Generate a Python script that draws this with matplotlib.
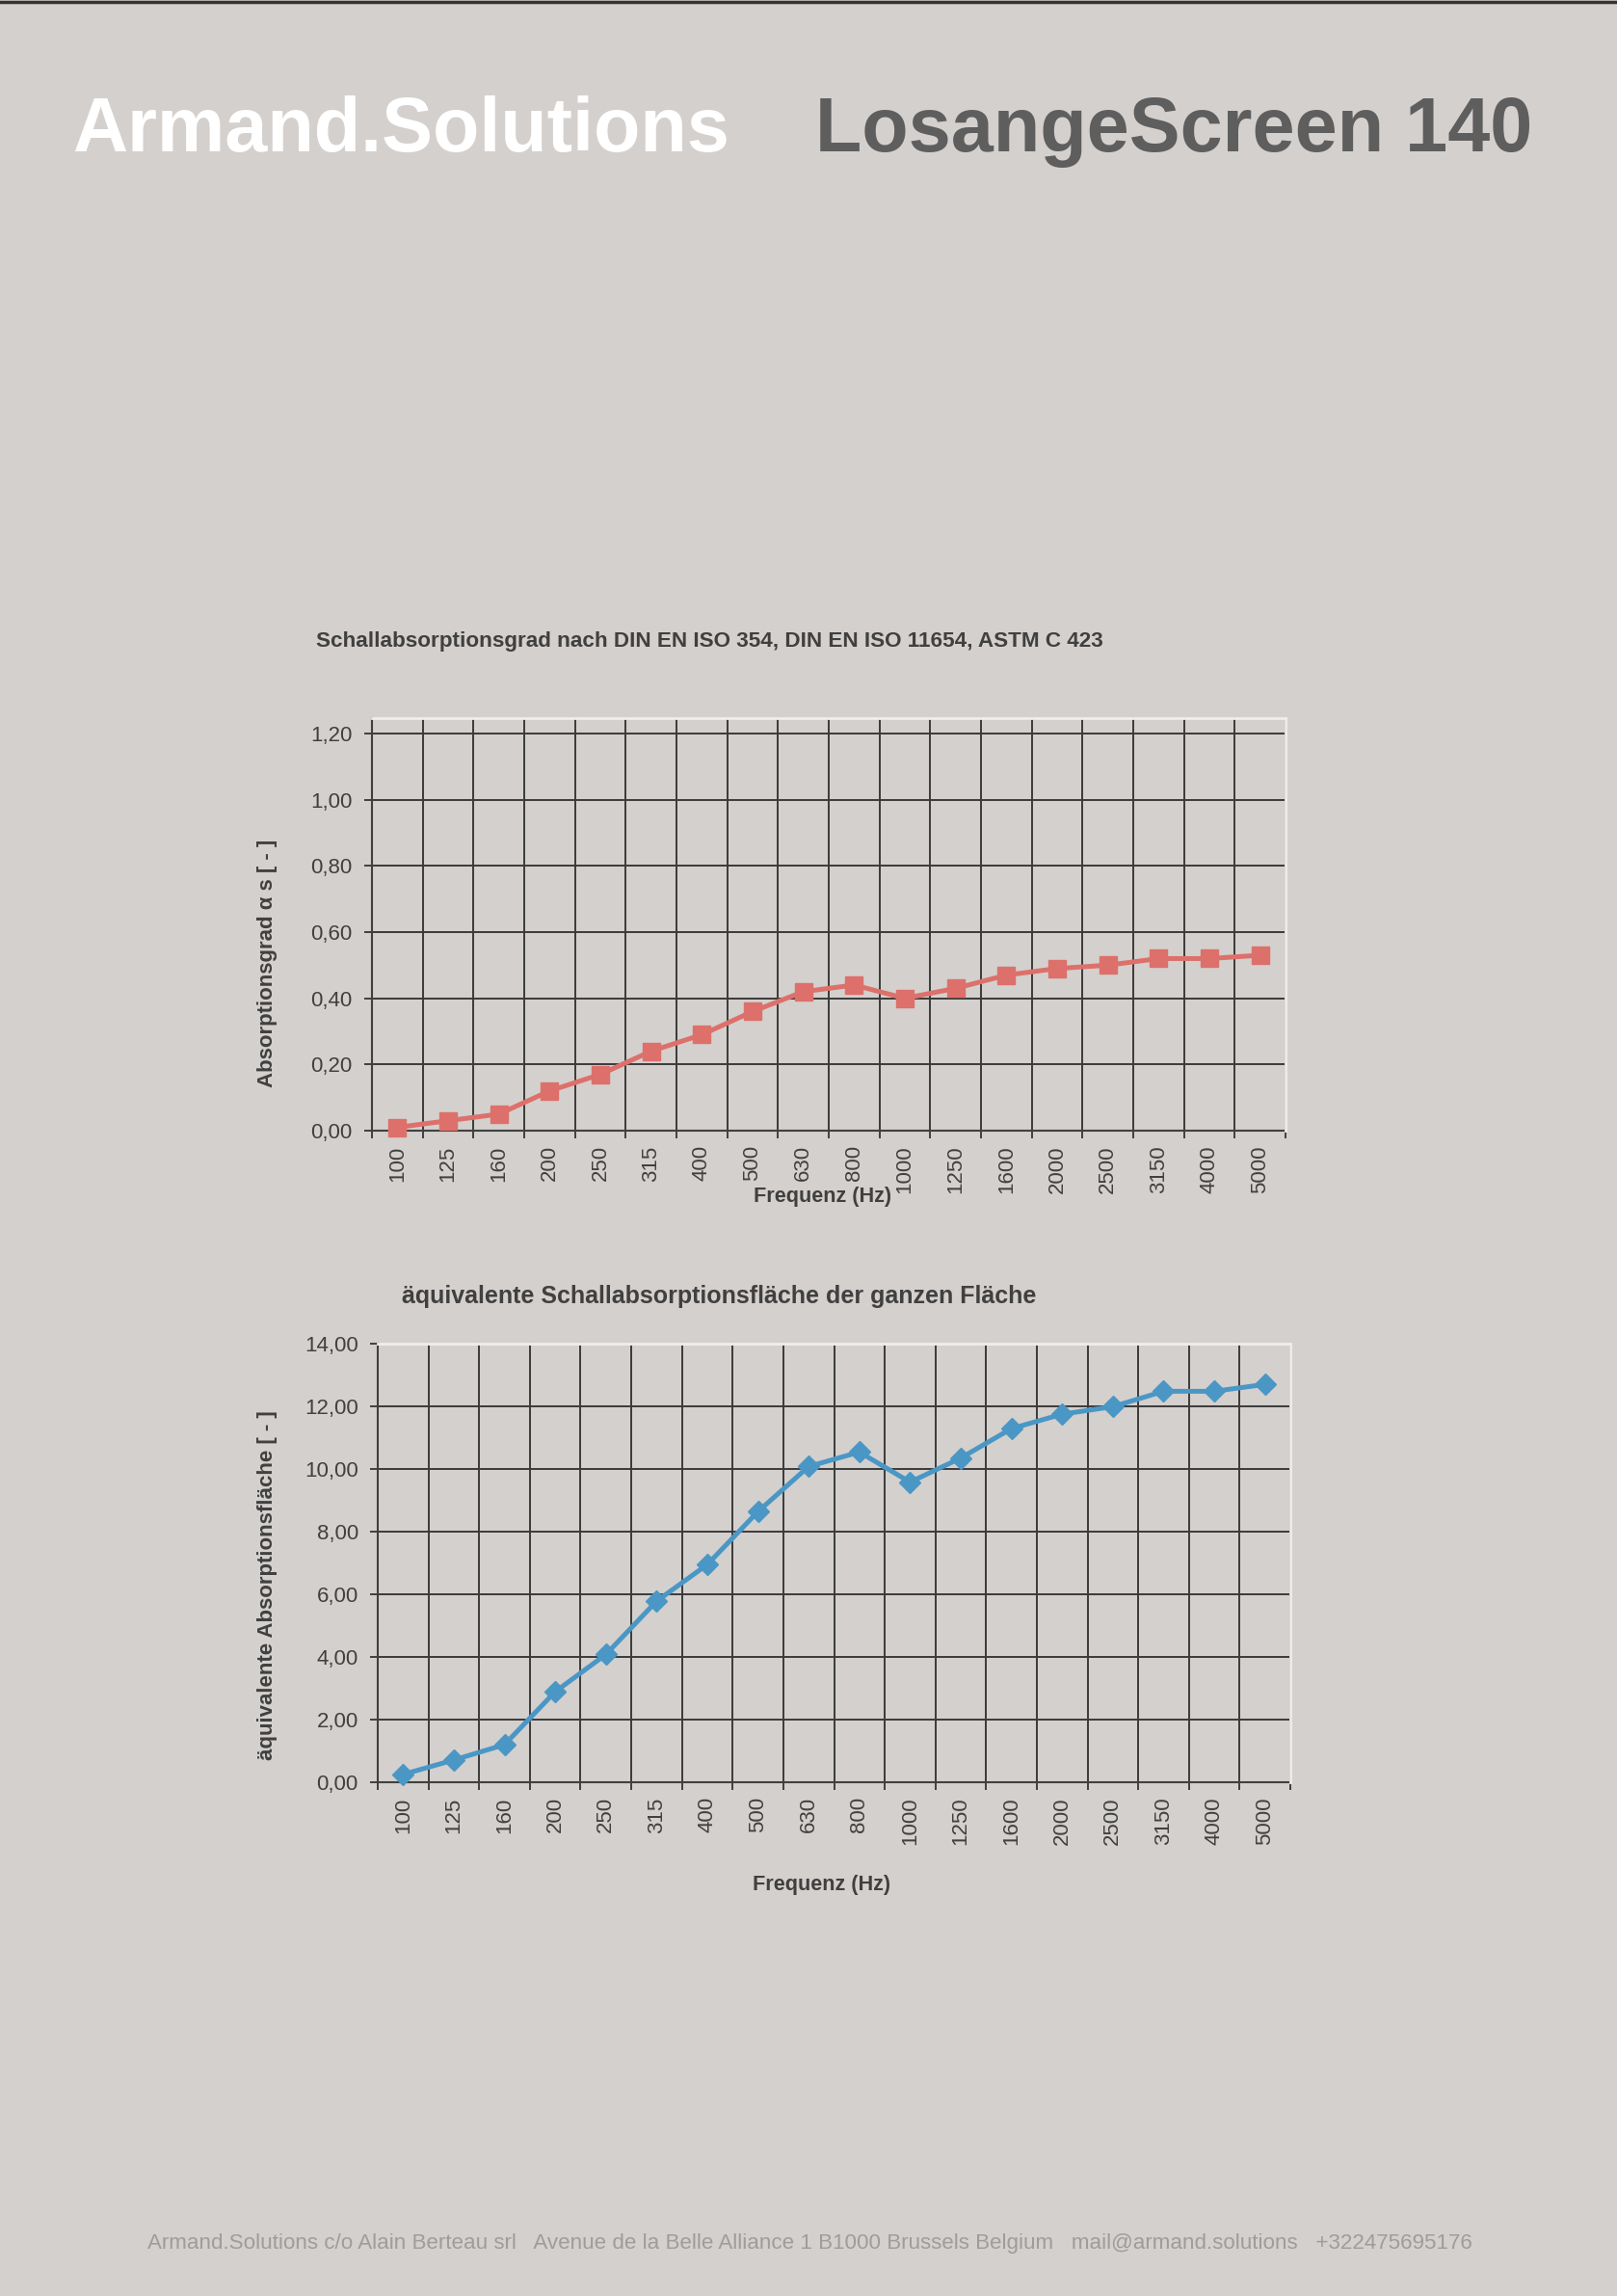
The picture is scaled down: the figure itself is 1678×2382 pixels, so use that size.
import numpy as np
import matplotlib
matplotlib.use("Agg")
import matplotlib.pyplot as plt
from matplotlib.ticker import FixedLocator

plt.rcParams['font.family'] = ['Liberation Sans', 'DejaVu Sans']

# Frequenzen (Hz)
frequenzen = ["100", "125", "160", "200", "250", "315", "400", "500", "630",
              "800", "1000", "1250", "1600", "2000", "2500", "3150", "4000", "5000"]

# Schallabsorptionsgrad alpha s
alpha_s = [0.01, 0.03, 0.05, 0.12, 0.17, 0.24, 0.29, 0.36, 0.42,
           0.44, 0.40, 0.43, 0.47, 0.49, 0.50, 0.52, 0.52, 0.53]

# aequivalente Absorptionsflaeche
flaeche = [0.25, 0.71, 1.20, 2.89, 4.08, 5.78, 6.95, 8.64, 10.08,
           10.54, 9.58, 10.35, 11.29, 11.75, 11.99, 12.48, 12.48, 12.70]

ticks_oben = [0.0, 0.2, 0.4, 0.6, 0.8, 1.0, 1.2]
ticks_unten = [0, 2, 4, 6, 8, 10, 12, 14]

BG = "#d4d0cd"
DUNKEL = "#404040"
GRID = "#3a3a3a"
W, H = 1678, 2382

fig = plt.figure(figsize=(W / 100, H / 100), dpi=100, facecolor=BG)


def px(x, y):
    return x / W, 1 - y / H


def achse(rect, werte, yticks, ytop, farbe, marker, msize):
    ax = fig.add_axes(rect)
    ax.set_facecolor(BG)
    x = np.arange(len(frequenzen))
    ax.plot(x, werte, color=farbe, lw=3.6, marker=marker, ms=msize,
            mec=farbe, mfc=farbe, zorder=5, clip_on=False)
    ax.set_xlim(-0.5, len(frequenzen) - 0.5)
    ax.set_ylim(0, ytop)
    ax.set_xticks(x)
    ax.set_xticklabels(frequenzen, rotation=90, fontsize=16, color=DUNKEL)
    ax.xaxis.set_minor_locator(FixedLocator(np.arange(-0.5, len(frequenzen), 1)))
    ax.tick_params(axis='x', which='major', length=0, pad=11)
    ax.tick_params(axis='x', which='minor', length=5.5, width=1.4, color=DUNKEL)
    ax.set_yticks(yticks)
    ax.set_yticklabels([f"{v:.2f}".replace(".", ",") for v in yticks],
                       fontsize=16, color=DUNKEL)
    ax.tick_params(axis='y', length=5.5, width=1.4, color=DUNKEL, pad=9)
    ax.grid(which='minor', axis='x', color=GRID, lw=1.4)
    ax.grid(which='major', axis='y', color=GRID, lw=1.4)
    for s in ['left', 'bottom']:
        ax.spines[s].set_color(DUNKEL)
        ax.spines[s].set_linewidth(1.5)
    for s in ['top', 'right']:
        ax.spines[s].set_color("#efeeec")
        ax.spines[s].set_linewidth(2)
        ax.spines[s].set_zorder(4)
    ax.set_axisbelow(True)
    return ax


# oberes Diagramm
x0, y0 = px(386, 1173)
x1, y1 = px(1334, 745)
ytop = 1.2 + 16 / (412 / 1.2)
achse([x0, y0, x1 - x0, y1 - y0], alpha_s, ticks_oben, ytop, "#dd706b", "s", 13.5)

# unteres Diagramm
x0, y0 = px(392, 1849)
x1, y1 = px(1339, 1394)
achse([x0, y0, x1 - x0, y1 - y0], flaeche, ticks_unten, 14, "#4a97c5", "D", 11.5)

# Texte
fig.add_artist(plt.Line2D([0, 1], [1 - 1.5 / H, 1 - 1.5 / H], color="#333333", lw=2.5))
fig.text(*px(75, 157), "Armand.Solutions", fontsize=57, fontweight='bold',
         color="white", ha='left', va='baseline')
fig.text(*px(1590, 157), "LosangeScreen 140", fontsize=57, fontweight='bold',
         color="#5e5e5e", ha='right', va='baseline')

fig.text(*px(736, 666), "Schallabsorptionsgrad nach DIN EN ISO 354, DIN EN ISO 11654, ASTM C 423",
         fontsize=16.2, fontweight='bold', color=DUNKEL, ha='center', va='center')
fig.text(*px(278, 999), "Absorptionsgrad α s [ - ]", fontsize=16, fontweight='bold',
         color=DUNKEL, ha='center', va='center', rotation=90)
fig.text(*px(854, 1242), "Frequenz (Hz)", fontsize=15.6, fontweight='bold',
         color=DUNKEL, ha='center', va='center')

fig.text(*px(746, 1345), "äquivalente Schallabsorptionsfläche der ganzen Fläche",
         fontsize=18, fontweight='bold', color=DUNKEL, ha='center', va='center')
fig.text(*px(278, 1645), "äquivalente Absorptionsfläche [ - ]", fontsize=16, fontweight='bold',
         color=DUNKEL, ha='center', va='center', rotation=90)
fig.text(*px(853, 1955), "Frequenz (Hz)", fontsize=15.6, fontweight='bold',
         color=DUNKEL, ha='center', va='center')

fig.text(*px(840, 2333),
         "Armand.Solutions c/o Alain Berteau srl   Avenue de la Belle Alliance 1 B1000 Brussels Belgium"
         "   mail@armand.solutions   +322475695176",
         fontsize=16.1, color="#9f9c9a", ha='center', va='baseline')

fig.savefig("out.png", dpi=100, facecolor=BG)
